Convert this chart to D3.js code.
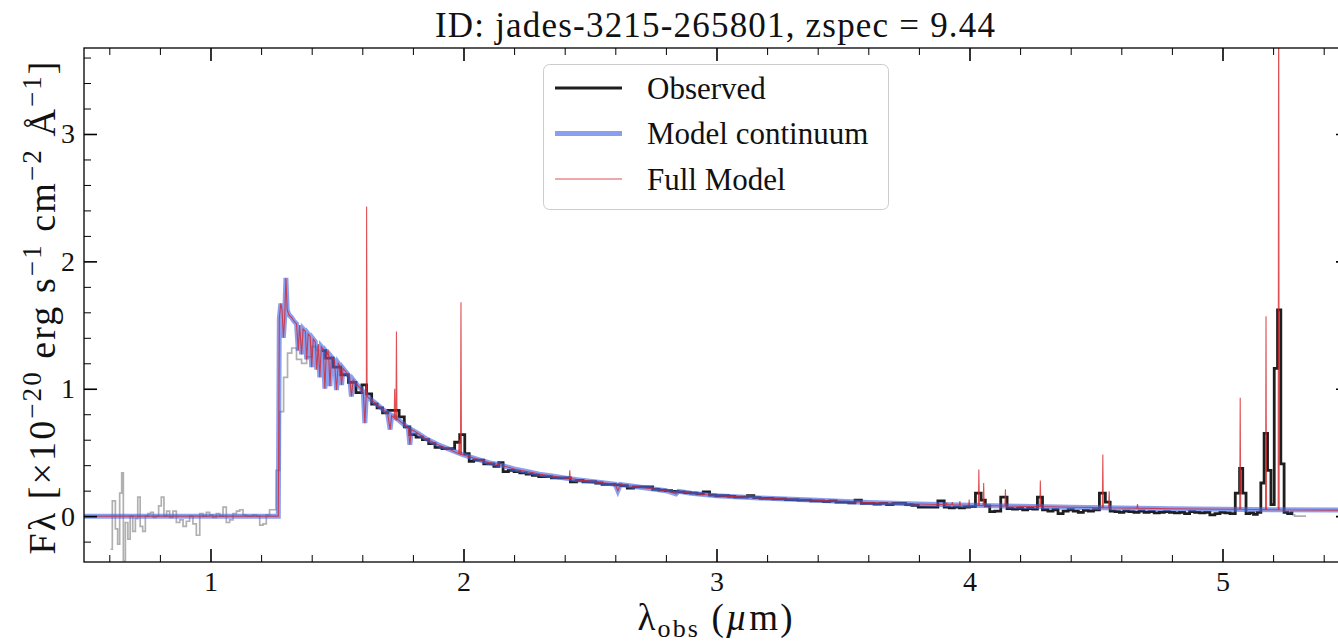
<!DOCTYPE html>
<html lang="en">
<head>
<meta charset="UTF-8">
<title>jades-3215-265801 spectrum</title>
<script src="https://cdn.jsdelivr.net/npm/d3@7"></script>
<style>
  body { margin: 0; background: #fff; }
  text { font-family: "Liberation Serif", "Times New Roman", serif; fill: #111; }
</style>
</head>
<body>
<div id="chart"></div>
<script>
// ---- data: [wavelength (um), flux (1e-20 erg/s/cm2/A)] ----

// low S/N part of the observed spectrum (grey)
const obsGrey = [
  [0.605,-0.26],[0.619,0.12],[0.629,-0.10],[0.637,-0.22],[0.645,0.18],[0.653,0.34],[0.658,-0.35],
  [0.669,-0.05],[0.678,-0.18],[0.687,0.00],[0.698,-0.12],[0.708,-0.02],[0.717,0.15],[0.727,-0.08],
  [0.737,-0.12],[0.748,0.00],[0.758,0.02],[0.769,0.03],[0.779,-0.01],[0.790,0.00],[0.800,0.08],
  [0.811,0.15],[0.821,0.00],[0.832,0.04],[0.845,-0.01],[0.858,0.04],[0.872,-0.05],[0.885,-0.03],
  [0.898,-0.08],[0.911,-0.04],[0.924,0.00],[0.937,-0.06],[0.951,-0.15],[0.964,0.02],[0.977,0.00],
  [0.990,0.03],[1.003,0.01],[1.016,-0.01],[1.030,0.02],[1.043,0.00],[1.056,0.07],[1.069,-0.05],
  [1.082,-0.03],[1.096,0.02],[1.109,0.04],[1.122,0.05],[1.135,0.01],[1.148,0.00],[1.161,0.00],
  [1.175,0.01],[1.188,0.00],[1.201,-0.07],[1.214,-0.06],[1.227,0.01],[1.240,0.05],[1.252,0.05],
  [1.266,0.36],[1.281,0.82],[1.297,1.09],[1.312,1.28],[1.330,1.32],[1.350,1.23],[1.370,1.20],
  [1.390,1.25],[1.410,1.33],[1.430,1.30]
];
const obsGreyTail = [[5.275,0.01],[5.295,0.0],[5.315,0.0],[5.33,0.0]];

// observed spectrum (black)
const obsBlack = [
  [1.440,1.30],[1.470,1.24],[1.500,1.17],[1.530,1.11],[1.560,1.05],[1.590,0.97],[1.607,1.03],
  [1.627,0.96],[1.647,0.88],[1.670,0.85],[1.690,0.81],[1.712,0.83],[1.735,0.83],[1.756,0.78],
  [1.776,0.70],[1.800,0.64],[1.825,0.62],[1.850,0.60],[1.875,0.57],[1.900,0.54],[1.930,0.53],
  [1.955,0.53],[1.975,0.58],[1.995,0.64],[2.015,0.49],[2.030,0.43],[2.050,0.44],[2.070,0.44],
  [2.090,0.41],[2.110,0.41],[2.130,0.39],[2.148,0.42],[2.165,0.35],[2.190,0.36],[2.210,0.35],
  [2.235,0.34],[2.260,0.33],[2.285,0.32],[2.310,0.31],[2.335,0.31],[2.360,0.30],[2.385,0.30],
  [2.410,0.30],[2.435,0.27],[2.460,0.28],[2.485,0.27],[2.510,0.27],[2.535,0.26],[2.560,0.25],
  [2.585,0.25],[2.610,0.245],[2.635,0.24],[2.660,0.22],[2.685,0.23],[2.710,0.23],[2.735,0.23],
  [2.760,0.21],[2.785,0.205],[2.810,0.20],[2.835,0.195],[2.860,0.19],[2.885,0.185],[2.910,0.18],
  [2.935,0.175],[2.960,0.19],[2.985,0.165],[3.010,0.16],[3.035,0.16],[3.060,0.155],[3.085,0.15],
  [3.110,0.15],[3.135,0.16],[3.160,0.145],[3.185,0.14],[3.210,0.14],[3.235,0.135],[3.260,0.135],
  [3.285,0.13],[3.310,0.13],[3.335,0.125],[3.360,0.125],[3.385,0.12],[3.410,0.12],[3.435,0.115],
  [3.460,0.12],[3.485,0.11],[3.510,0.11],[3.535,0.105],[3.560,0.125],[3.585,0.10],[3.610,0.10],
  [3.635,0.095],[3.660,0.10],[3.685,0.09],[3.710,0.10],[3.735,0.10],[3.760,0.09],[3.785,0.085],
  [3.810,0.07],[3.835,0.07],[3.860,0.07],[3.890,0.12],[3.910,0.07],[3.930,0.065],[3.950,0.07],
  [3.970,0.065],[3.990,0.07],[4.010,0.075],[4.037,0.18],[4.055,0.125],[4.070,0.08],[4.090,0.035],
  [4.110,0.04],[4.137,0.15],[4.160,0.06],[4.180,0.055],[4.200,0.06],[4.220,0.05],[4.240,0.06],
  [4.260,0.055],[4.277,0.15],[4.300,0.05],[4.320,0.04],[4.340,0.05],[4.360,0.02],[4.380,0.04],
  [4.400,0.05],[4.420,0.04],[4.440,0.03],[4.460,0.045],[4.480,0.04],[4.500,0.05],[4.527,0.18],
  [4.547,0.11],[4.565,0.04],[4.585,0.035],[4.600,0.03],[4.620,0.04],[4.640,0.035],[4.660,0.03],
  [4.680,0.04],[4.700,0.03],[4.720,0.035],[4.740,0.025],[4.760,0.03],[4.780,0.035],[4.800,0.03],
  [4.820,0.025],[4.840,0.03],[4.860,0.02],[4.880,0.035],[4.900,0.03],[4.920,0.025],[4.940,0.03],
  [4.960,0.01],[4.980,0.02],[5.000,0.03],[5.020,0.025],[5.040,0.02],[5.061,0.18],[5.074,0.375],
  [5.086,0.18],[5.100,0.02],[5.115,0.025],[5.130,0.015],[5.145,0.03],[5.158,0.26],[5.171,0.65],
  [5.185,0.36],[5.198,0.09],[5.211,1.16],[5.224,1.62],[5.237,0.41],[5.250,0.03],[5.265,0.02],
  [5.280,0.025]
];

// model continuum (blue)
const continuum = [
  [0.50,0.0],[1.268,0.0],[1.272,1.55],[1.278,1.67],[1.283,1.62],[1.288,1.40],[1.293,1.55],
  [1.298,1.87],[1.303,1.62],[1.310,1.58],[1.320,1.56],[1.330,1.53],[1.340,1.51],[1.347,1.30],
  [1.352,1.50],[1.360,1.27],[1.366,1.47],[1.375,1.45],[1.380,1.23],[1.386,1.43],[1.394,1.41],
  [1.400,1.17],[1.406,1.39],[1.414,1.37],[1.420,1.15],[1.426,1.35],[1.432,1.09],[1.438,1.33],
  [1.446,1.31],[1.452,1.00],[1.458,1.29],[1.466,1.27],[1.472,1.02],[1.478,1.25],[1.490,1.22],
  [1.498,0.99],[1.505,1.20],[1.512,1.18],[1.518,1.03],[1.524,1.16],[1.540,1.12],[1.550,1.09],
  [1.557,0.94],[1.564,1.07],[1.580,1.03],[1.595,1.00],[1.604,0.97],[1.610,0.73],[1.616,0.95],
  [1.630,0.92],[1.650,0.89],[1.680,0.84],[1.700,0.81],[1.710,0.68],[1.716,0.79],[1.740,0.76],
  [1.770,0.71],[1.782,0.69],[1.788,0.56],[1.794,0.68],[1.820,0.65],[1.850,0.61],[1.870,0.59],
  [1.900,0.56],[1.950,0.52],[2.000,0.48],[2.050,0.45],[2.100,0.42],[2.150,0.40],[2.200,0.37],
  [2.250,0.35],[2.300,0.33],[2.350,0.315],[2.400,0.30],[2.450,0.285],[2.500,0.275],[2.550,0.262],
  [2.600,0.25],[2.610,0.20],[2.620,0.248],[2.700,0.227],[2.800,0.20],[2.840,0.175],[2.850,0.195],
  [2.900,0.18],[3.000,0.16],[3.200,0.14],[3.400,0.125],[3.600,0.107],[3.800,0.095],[4.000,0.085],
  [4.200,0.077],[4.400,0.07],[4.600,0.064],[4.800,0.058],[5.000,0.054],[5.200,0.05],[5.500,0.047]
];

// emission lines of the full model (red): centre, peak, continuum level under it
const lineWave = [1.465, 1.617, 1.728, 1.735, 1.983, 1.990, 2.420, 3.910, 3.932, 3.962, 3.999,
                  4.037, 4.056, 4.142, 4.280, 4.527, 4.552, 4.664, 5.070, 5.172, 5.222];
const linePeak = [1.31, 2.43, 1.00, 1.45, 0.60, 1.68, 0.36, 0.106, 0.11, 0.118, 0.13,
                  0.366, 0.26, 0.21, 0.28, 0.484, 0.195, 0.094, 0.93, 1.57, 4.6];
const lineBase = [1.27, 0.94, 0.77, 0.76, 0.49, 0.485, 0.297, 0.09, 0.089, 0.088, 0.085,
                  0.084, 0.083, 0.08, 0.076, 0.067, 0.066, 0.063, 0.054, 0.051, 0.05];

const xTicks = [1, 2, 3, 4, 5];
const yTicks = [0, 1, 2, 3];
const legendLabels = ["Observed", "Model continuum", "Full Model"];

// ---- chart ----
const width = 1338, height = 643;
const plotL = 84, plotR = 1349, plotT = 48, plotB = 562;

const x = d3.scaleLinear().domain([0.5, 5.5]).range([plotL, plotR]);
const y = d3.scaleLinear().domain([-0.36, 3.675]).range([plotB, plotT]);

const svg = d3.select("#chart").append("svg")
    .attr("width", width)
    .attr("height", height);

svg.append("clipPath").attr("id", "clip")
  .append("rect")
    .attr("x", plotL).attr("y", plotT)
    .attr("width", plotR - plotL).attr("height", plotB - plotT);

const plot = svg.append("g").attr("clip-path", "url(#clip)");

const stepLine = d3.line().x(d => x(d[0])).y(d => y(d[1])).curve(d3.curveStep);
const plainLine = d3.line().x(d => x(d[0])).y(d => y(d[1]));

// full model = continuum with the narrow emission lines added on top
const spikes = lineWave.flatMap((w, i) => [
  [w - 0.002, lineBase[i]], [w, linePeak[i]], [w + 0.002, lineBase[i]]
]);
const fullModel = continuum.concat(spikes).sort((a, b) => a[0] - b[0]);

const colors = {obs: "#1e1e1e", grey: "#b0b0b0", cont: "#4166e6", full: "#d7262b"};

plot.append("path").datum(obsGrey)
    .attr("d", stepLine).attr("fill", "none")
    .attr("stroke", colors.grey).attr("stroke-width", 1.7);
plot.append("path").datum(obsGreyTail)
    .attr("d", stepLine).attr("fill", "none")
    .attr("stroke", colors.grey).attr("stroke-width", 1.7);
plot.append("path").datum(obsBlack)
    .attr("d", stepLine).attr("fill", "none")
    .attr("stroke", colors.obs).attr("stroke-width", 2.8)
    .attr("stroke-linejoin", "miter");
plot.append("path").datum(continuum)
    .attr("d", plainLine).attr("fill", "none")
    .attr("stroke", colors.cont).attr("stroke-opacity", 0.62).attr("stroke-width", 5);
plot.append("path").datum(fullModel)
    .attr("d", plainLine).attr("fill", "none")
    .attr("stroke", colors.full).attr("stroke-opacity", 0.8).attr("stroke-width", 1.1);

// ---- axes: inward ticks on all four sides ----
const xMinor = d3.range(6, 55, 2).map(v => v / 10).filter(v => v % 1 !== 0);
const yMinor = d3.range(-2, 37, 2).map(v => v / 10).filter(v => v % 1 !== 0);

function ticks(axis, pos, major, minor, labels) {
  const g = svg.append("g").attr("transform", pos);
  g.call(axis.tickValues(major).tickSize(-13).tickPadding(labels ? 9 : 0)
      .tickFormat(labels ? d3.format("d") : ""));
  g.selectAll(".tick line").attr("stroke-width", 1.6);
  const gm = svg.append("g").attr("transform", pos);
  gm.call(axis.tickValues(minor).tickSize(-7).tickFormat(""));
  gm.selectAll(".tick line").attr("stroke-width", 1);
  [g, gm].forEach(s => s.select(".domain").remove());
  g.selectAll("text").style("font-size", "28px").style("font-family", "Liberation Serif").attr("fill", "#111");
}
ticks(d3.axisBottom(x), `translate(0,${plotB})`, xTicks, xMinor, true);
ticks(d3.axisTop(x), `translate(0,${plotT})`, xTicks, xMinor, false);
ticks(d3.axisLeft(y), `translate(${plotL},0)`, yTicks, yMinor, true);
ticks(d3.axisRight(y), `translate(${plotR},0)`, yTicks, yMinor, false);

svg.append("rect")
    .attr("x", plotL).attr("y", plotT)
    .attr("width", plotR - plotL).attr("height", plotB - plotT)
    .attr("fill", "none").attr("stroke", "#000").attr("stroke-width", 1.3);

// ---- title and axis labels ----
svg.append("text")
    .attr("x", 715).attr("y", 37)
    .attr("text-anchor", "middle")
    .attr("textLength", 560).attr("lengthAdjust", "spacing")
    .style("font-size", "35px")
    .text("ID: jades-3215-265801, zspec = 9.44");

const xl = svg.append("text")
    .attr("x", 715).attr("y", 630)
    .attr("text-anchor", "middle")
    .attr("textLength", 155).attr("lengthAdjust", "spacing")
    .style("font-size", "37px");
xl.append("tspan").text("λ");
xl.append("tspan").attr("dy", 7).style("font-size", "26px").text("obs");
xl.append("tspan").attr("dy", -7).text(" (");
xl.append("tspan").style("font-style", "italic").text("µ");
xl.append("tspan").text("m)");

const yl = svg.append("text")
    .attr("transform", "translate(55,308) rotate(-90)")
    .attr("text-anchor", "middle")
    .attr("textLength", 493).attr("lengthAdjust", "spacing")
    .style("font-size", "38px");
const ySup = (t) => {
  yl.append("tspan").attr("dy", -14).style("font-size", "27px").text(t);
};
yl.append("tspan").text("Fλ [×10");
ySup("−20");
yl.append("tspan").attr("dy", 14).text(" erg s");
ySup("−1");
yl.append("tspan").attr("dy", 14).text(" cm");
ySup("−2");
yl.append("tspan").attr("dy", 14).text(" Å");
ySup("−1");
yl.append("tspan").attr("dy", 14).text("]");

// ---- legend ----
const legend = svg.append("g");
legend.append("rect")
    .attr("x", 543.5).attr("y", 64.5).attr("width", 345).attr("height", 145).attr("rx", 6)
    .attr("fill", "#fff").attr("fill-opacity", 0.8)
    .attr("stroke", "#cccccc").attr("stroke-width", 1);
const legendStyle = [
  {stroke: colors.obs, width: 3, opacity: 1},
  {stroke: colors.cont, width: 5, opacity: 0.62},
  {stroke: colors.full, width: 1, opacity: 0.8}
];
legendLabels.forEach((label, i) => {
  const ly = 88 + i * 45.5;
  legend.append("line")
      .attr("x1", 555).attr("x2", 622).attr("y1", ly).attr("y2", ly)
      .attr("stroke", legendStyle[i].stroke)
      .attr("stroke-opacity", legendStyle[i].opacity)
      .attr("stroke-width", legendStyle[i].width);
  legend.append("text")
      .attr("x", 647).attr("y", ly).attr("dy", "0.35em")
      .style("font-size", "31px")
      .text(label);
});
</script>
</body>
</html>
